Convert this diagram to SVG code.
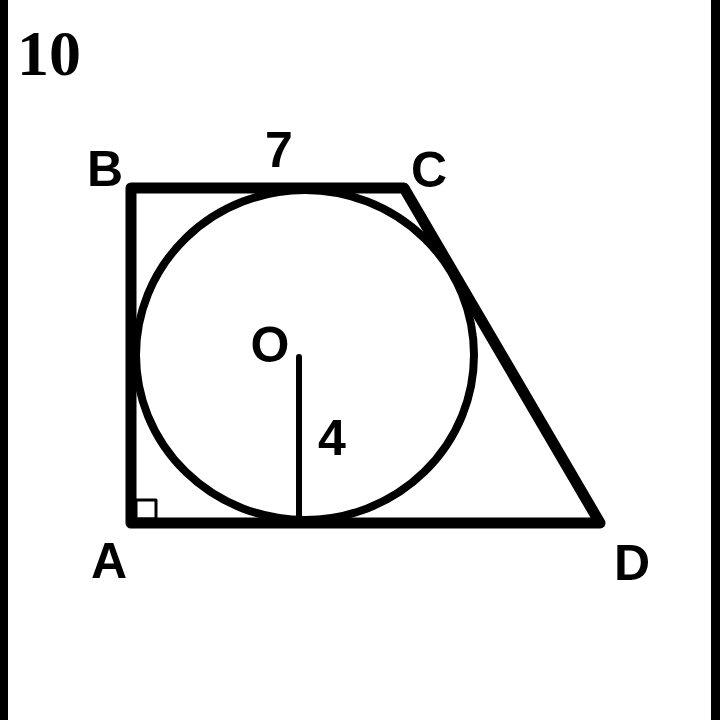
<svg xmlns="http://www.w3.org/2000/svg" width="720" height="720" viewBox="0 0 720 720">
<style>
.lbl{font-family:"Liberation Sans",Arial,sans-serif;font-weight:bold;fill:#000;text-anchor:middle;font-size:50px}
.fig{fill:none;stroke:#000;stroke-linejoin:round;stroke-linecap:round}
</style>
<rect x="0" y="0" width="720" height="720" fill="#fff"/>
<rect x="0" y="0" width="8" height="720" fill="#000"/>
<rect x="711" y="0" width="9" height="720" fill="#000"/>
<text x="49" y="75" font-family="Liberation Serif,serif" font-weight="bold" font-size="64" text-anchor="middle" fill="#000">10</text>
<g id="trapezoid">
<path class="fig" stroke-width="11" d="M131,188 L404,188 L600,523 L131,523 Z"/>
<rect class="fig" x="136" y="500" width="20" height="19" stroke-width="3"/>
</g>
<g id="circle">
<ellipse class="fig" cx="305" cy="355" rx="169" ry="165" stroke-width="8"/>
<line class="fig" x1="299" y1="357" x2="299" y2="520" stroke-width="6" stroke-linecap="butt"/>
</g>
<g id="labels">
<text class="lbl" x="105" y="186">B</text>
<text class="lbl" x="429" y="187">C</text>
<text class="lbl" x="109" y="578">A</text>
<text class="lbl" x="632" y="580">D</text>
<text class="lbl" x="279" y="167">7</text>
<text class="lbl" x="270" y="362">O</text>
<text class="lbl" x="332" y="455">4</text>
</g>
</svg>
